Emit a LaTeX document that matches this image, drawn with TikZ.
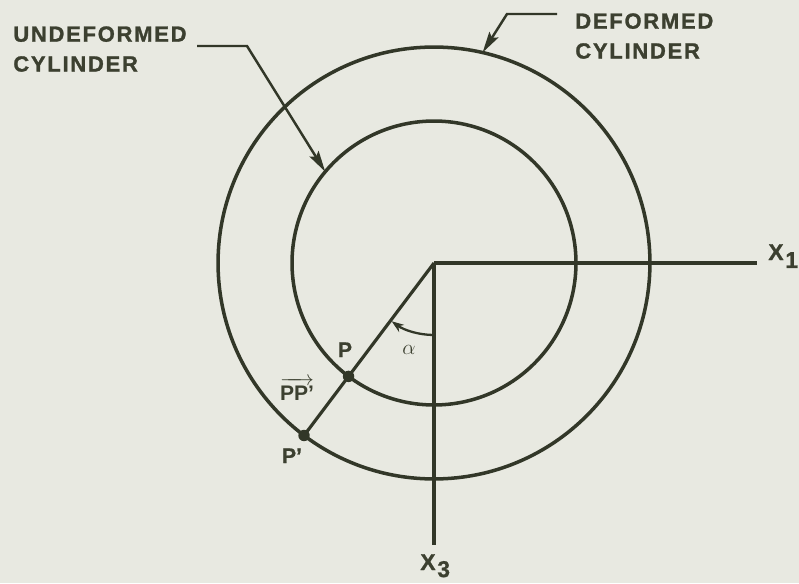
\documentclass[tikz,border=0pt]{standalone}
\usepackage{amsmath}
\usepackage{fontspec}
\setsansfont{Liberation Sans}
\usetikzlibrary{arrows.meta}
\definecolor{paperbg}{RGB}{232,233,225}
\definecolor{inkline}{RGB}{50,55,40}
\definecolor{inktext}{RGB}{60,64,48}
\tikzset{
  ring/.style={circle, draw=inkline, line width=2pt, inner sep=0pt, outer sep=0pt},
  axisline/.style={draw=inkline, line width=1.8pt},
  leader/.style={draw=inkline, line width=1.4pt, -{Stealth[length=12pt,width=6pt,inset=2pt]}},
  alphaarrow/.style={draw=inkline, line width=1.3pt, -{Stealth[length=7pt,width=5pt]}},
  dotmark/.style={circle, fill=inkline, inner sep=0pt, minimum size=6.5pt},
  tag/.style={text=inktext, inner sep=0pt, align=left,
    font=\sffamily\bfseries\fontsize{12.5}{17}\selectfont\addfontfeatures{LetterSpace=8,FakeBold=1.2}},
  ptlabel/.style={text=inktext, inner sep=0pt, font=\sffamily\bfseries\fontsize{12}{14}\selectfont\addfontfeatures{FakeBold=1}},
  axlabel/.style={text=inktext, inner sep=0pt, font=\sffamily\bfseries\fontsize{13}{15}\selectfont\addfontfeatures{FakeBold=1}}
}
\begin{document}
\begin{tikzpicture}[x=0.02cm, y=0.02cm]
  \fill[paperbg] (0,0) rectangle (799,583);
  \useasboundingbox (0,0) rectangle (799,583);
  \coordinate (O) at (434,320);
  \node[ring, minimum size=8.64cm] (outer) at (O) {};
  \node[ring, minimum size=5.68cm] (inner) at (O) {};
  \coordinate (x1end) at (757,320);
  \coordinate (x3end) at (434,38);
  \draw[axisline] (O) -- (x1end);
  \draw[axisline] (O) -- (x3end);
  \node[dotmark] (P) at (inner.233.3) {};
  \node[dotmark] (Pp) at (outer.233.3) {};
  \draw[axisline] (O) -- (Pp.center);
  \draw[alphaarrow] ([shift={(270:72)}]O) arc[start angle=270, end angle=234, radius=72];
  \node[text=inktext, font=\large] (alpha) at (409,233) {$\alpha$};
  \node[ptlabel, anchor=base] (Plab) at (345,226) {P};
  \node[ptlabel, anchor=base] (ppvec) at (297,183) {$\overrightarrow{\textsf{\textbf{PP'}}}$};
  \node[ptlabel, anchor=base] (Pplab) at (292,120) {P'};
  \node[tag, anchor=north west] (undef) at (13,557) {UNDEFORMED\\CYLINDER};
  \node[tag, anchor=north west] (def) at (575,570) {DEFORMED\\CYLINDER};
  \coordinate (ustart) at (197,537);
  \coordinate (ubend) at (247,537);
  \draw[leader] (ustart) -- (ubend) -- (inner.140.8);
  \coordinate (dstart) at (557,569);
  \coordinate (dbend) at (507,569);
  \draw[leader] (dstart) -- (dbend) -- (outer.77);
  \node[axlabel, anchor=base west] (x1) at (768,323) {X\kern1pt\raisebox{-4.5pt}{1}};
  \node[axlabel, anchor=base west] (x3) at (420,13) {X\kern1pt\raisebox{-4pt}{3}};
\end{tikzpicture}
\end{document}
